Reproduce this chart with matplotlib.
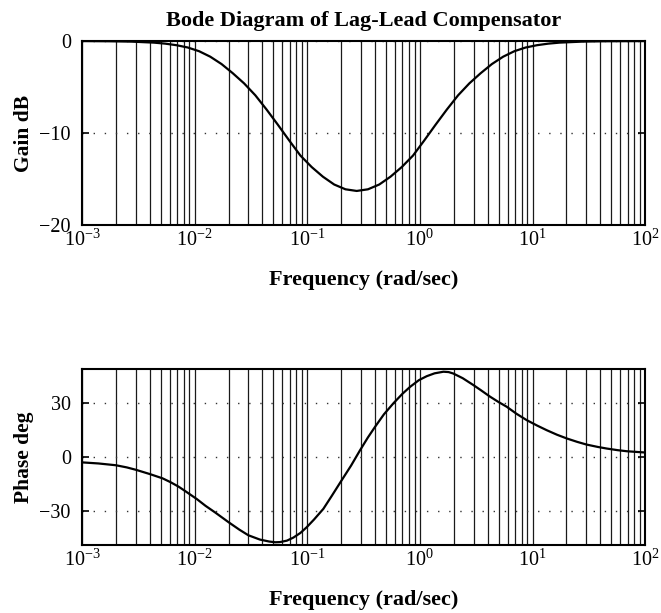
import matplotlib
matplotlib.use("Agg")
import matplotlib.pyplot as plt
import numpy as np
from matplotlib.ticker import LogLocator, NullFormatter

# Werte (Frequenz in rad/s)
w_gain = [0.001, 0.001735, 0.00275, 0.00436, 0.00549, 0.00691, 0.0087, 0.01095,
          0.01378, 0.01735, 0.02184, 0.0275, 0.03462, 0.04358, 0.05487, 0.06908,
          0.08697, 0.1095, 0.1378, 0.1735, 0.2184, 0.275, 0.3462, 0.4359, 0.5486,
          0.6908, 0.8696, 1.095, 1.378, 1.735, 2.184, 2.75, 3.462, 4.359, 5.486,
          6.908, 8.696, 10.95, 13.78, 17.35, 27.5, 43.6, 100]
gain_db = [0.0, -0.02, -0.06, -0.17, -0.28, -0.45, -0.7, -1.1,
           -1.7, -2.5, -3.5, -4.6, -5.9, -7.45, -9.1, -10.8,
           -12.45, -13.7, -14.75, -15.6, -16.12, -16.3, -16.12, -15.6, -14.75,
           -13.7, -12.45, -10.8, -9.1, -7.45, -5.9, -4.6, -3.5, -2.5, -1.7,
           -1.1, -0.7, -0.45, -0.28, -0.17, -0.06, -0.02, 0.0]

w_phase = [0.001, 0.0014, 0.002, 0.0025, 0.003, 0.004, 0.0052, 0.0061, 0.0072,
           0.00826, 0.0105, 0.0125, 0.0153, 0.0201, 0.025, 0.030, 0.038, 0.046, 0.052,
           0.0573, 0.066, 0.0753, 0.087, 0.099, 0.115, 0.139, 0.165, 0.202, 0.245,
           0.294, 0.345, 0.40, 0.48, 0.582, 0.70, 0.82, 0.98, 1.15, 1.35, 1.62, 1.8,
           1.98, 2.4, 2.98, 3.5, 4.2, 5.0, 5.9, 7.2, 8.9, 11, 13.4, 16.5, 20.2, 25,
           30.3, 38, 45.7, 57, 68.9, 85, 100]
phase_deg = [-3.0, -3.6, -4.6, -5.8, -7.1, -9.5, -11.9, -14.0, -16.5,
             -19.0, -23.5, -27.2, -31.0, -36.4, -40.5, -43.6, -46.0, -47.1, -47.5,
             -47.4, -46.6, -44.9, -42.3, -39.1, -34.8, -28.9, -21.7, -13.0, -4.8,
             3.7, 10.8, 16.8, 23.8, 29.9, 35.2, 39.1, 42.8, 45.0, 46.6, 47.5, 47.3,
             46.5, 43.9, 40.1, 37.1, 33.6, 30.6, 28.0, 24.1, 20.5, 17.5, 14.9, 12.4, 10.3, 8.4,
             6.9, 5.6, 4.7, 3.8, 3.2, 2.8, 2.5]

plt.rcParams['font.family'] = ['Liberation Serif', 'DejaVu Serif']
plt.rcParams['mathtext.fontset'] = 'stix'
plt.rcParams['font.size'] = 14

fig = plt.figure(figsize=(6.61, 6.13), dpi=100)
ax1 = fig.add_axes([0.124, 0.633, 0.852, 0.300])
ax2 = fig.add_axes([0.124, 0.111, 0.852, 0.287])


def style_axes(ax):
    ax.set_xscale('log')
    ax.set_xlim(1e-3, 1e2)
    ax.xaxis.set_major_locator(LogLocator(base=10, numticks=10))
    ax.xaxis.set_minor_locator(LogLocator(base=10, subs=np.arange(2, 10), numticks=50))
    ax.xaxis.set_minor_formatter(NullFormatter())
    # senkrechte Gitterlinien durchgezogen, waagrechte gepunktet
    ax.xaxis.grid(True, which='both', linestyle='-', color='0.1', linewidth=0.9)
    ax.yaxis.grid(True, which='major', linestyle=(0, (1, 7)), color='0.2', linewidth=1.0)
    ax.tick_params(axis='y', direction='in', left=True, right=True, length=5, width=1.2,
                   labelsize=14.5, pad=8)
    ax.tick_params(axis='x', which='both', direction='in', top=True, length=0,
                   labelsize=14.5, pad=3)
    for sp in ax.spines.values():
        sp.set_linewidth(1.5)


style_axes(ax1)
ax1.plot(w_gain, gain_db, color='black', linewidth=1.6)
ax1.set_ylim(-20, 0)
ax1.set_yticks([-20, -10, 0])
ax1.set_yticklabels(['\u221220', '\u221210', '0'])
ax1.set_title('Bode Diagram of Lag-Lead Compensator', fontsize=16, fontweight='bold', pad=11)
ax1.set_xlabel('Frequency (rad/sec)', fontsize=16, fontweight='bold', labelpad=14)
ax1.set_ylabel('Gain dB', fontsize=15.5, fontweight='bold', labelpad=4)

style_axes(ax2)
ax2.plot(w_phase, phase_deg, color='black', linewidth=1.6)
ax2.set_ylim(-49, 49)
ax2.set_yticks([-30, 0, 30])
ax2.set_yticklabels(['\u221230', '0', '30'])
ax2.set_xlabel('Frequency (rad/sec)', fontsize=16, fontweight='bold', labelpad=14)
ax2.set_ylabel('Phase deg', fontsize=15.5, fontweight='bold', labelpad=4)

fig.savefig('out.png', dpi=100)
